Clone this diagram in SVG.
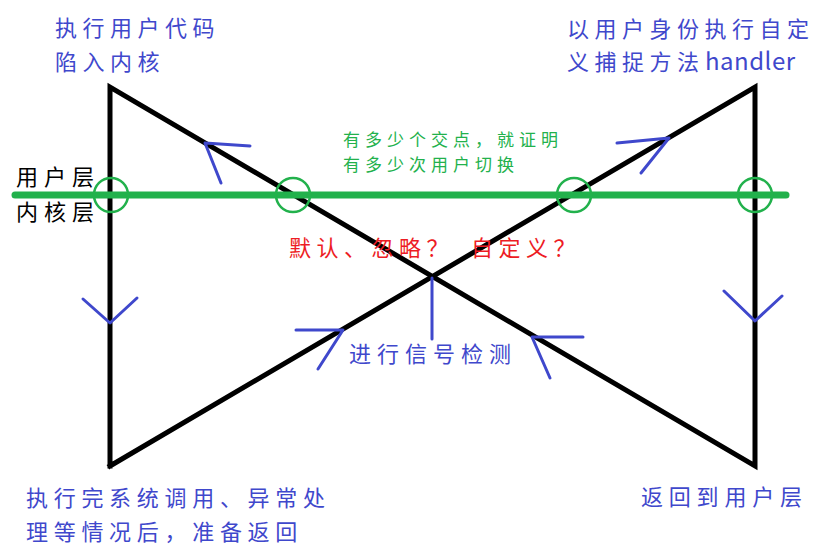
<svg xmlns="http://www.w3.org/2000/svg" width="822" height="554" viewBox="0 0 822 554">
<style>
.t{font-family:"Noto Sans CJK SC","Noto Sans",sans-serif;font-size:22px;letter-spacing:5.5px}
.blue{fill:#3f48cc}
.blk{stroke:#000;stroke-width:5;fill:none;stroke-linejoin:miter;stroke-linecap:square}
.arr{stroke:#3f48cc;stroke-width:3;fill:none;stroke-linecap:round;stroke-linejoin:round}
.grn{stroke:#22b14c;fill:none}
</style>
<rect width="822" height="554" fill="#fff"/>
<g id="connectors">
<polyline class="blk" points="110,466 110,87 755,466 755,87 110,466"/>
<line class="grn" x1="15" y1="195" x2="786" y2="195" stroke-width="7" stroke-linecap="round"/>
<circle class="grn" cx="111" cy="195" r="17" stroke-width="2.5"/>
<circle class="grn" cx="293" cy="195" r="17" stroke-width="2.5"/>
<circle class="grn" cx="574" cy="195" r="17" stroke-width="2.5"/>
<circle class="grn" cx="755" cy="195" r="17" stroke-width="2.5"/>
<polyline class="arr" points="83,299 110,323 137,298"/>
<polyline class="arr" points="724,291 755,321 782,296"/>
<polyline class="arr" points="250,146 205,143 221,183"/>
<polyline class="arr" points="617,143 669,138 641,173"/>
<line class="arr" x1="432" y1="278" x2="432" y2="339"/>
<polyline class="arr" points="296,330 343,330 318,369"/>
<polyline class="arr" points="583,337 532,337 550,378"/>
</g>
<g id="label-user-code">
<text class="t blue" x="55" y="36">执行用户代码</text>
<text class="t blue" x="55" y="70">陷入内核</text>
</g>
<g id="label-handler">
<text class="t blue" x="567" y="37">以用户身份执行自定</text>
<text class="t blue" x="567" y="70">义捕捉方法<tspan x="705" textLength="93" lengthAdjust="spacing" style="font-size:24px;letter-spacing:3px">handler</tspan></text>
</g>
<g id="label-layers">
<text class="t" x="16" y="185" style="letter-spacing:6px">用户层</text>
<text class="t" x="16" y="220" style="letter-spacing:6px">内核层</text>
</g>
<g id="label-note">
<text class="t" x="343" y="146" fill="#22b14c" style="font-size:17px;letter-spacing:5px">有多少个交点，就证明</text>
<text class="t" x="343" y="171" fill="#22b14c" style="font-size:17px;letter-spacing:5px">有多少次用户切换</text>
</g>
<g id="label-question">
<text class="t" x="289" y="256" fill="#ed1c24">默认、忽略？ <tspan x="471">自定义？</tspan></text>
</g>
<g id="label-check">
<text class="t blue" x="349" y="362" style="letter-spacing:6px">进行信号检测</text>
</g>
<g id="label-kernel-done">
<text class="t blue" x="26" y="506" style="letter-spacing:5.7px">执行完系统调用、异常处</text>
<text class="t blue" x="26" y="540" style="letter-spacing:5.7px">理等情况后，准备返回</text>
</g>
<g id="label-return">
<text class="t blue" x="641" y="505" style="letter-spacing:5.8px">返回到用户层</text>
</g>
</svg>
